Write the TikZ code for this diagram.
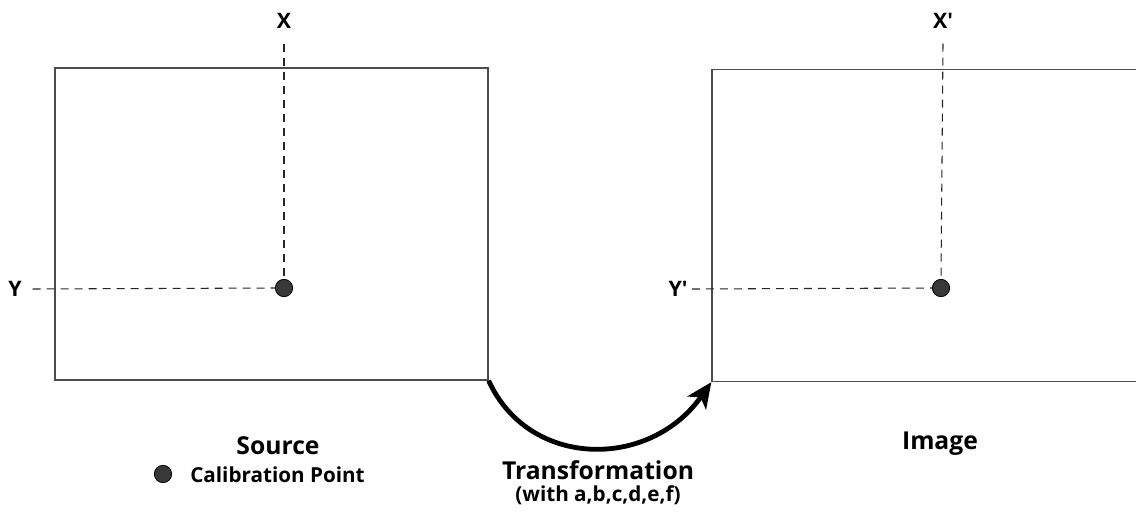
\documentclass[tikz,border=0pt]{standalone}
\usepackage{fontspec}
\setmainfont{Open Sans}
\usetikzlibrary{arrows,arrows.meta,positioning}
\tikzstyle{frame}=[rectangle,draw=black!70,line width=1pt,minimum width=324.75pt,minimum height=234pt,inner sep=0pt]
\tikzstyle{calpt}=[circle,draw=black,fill=black!78,line width=0.6pt,minimum size=13pt,inner sep=0pt]
\tikzstyle{axlabel}=[font=\bfseries\fontsize{16}{18}\selectfont,inner sep=0pt]
\tikzstyle{bigtext}=[font=\bfseries\fontsize{18.5}{21}\selectfont,inner sep=0pt]
\tikzstyle{smalltext}=[font=\bfseries\fontsize{15.5}{18}\selectfont,inner sep=0pt]
\tikzstyle{guide}=[draw=black!85,line width=0.8pt,dash pattern=on 6pt off 4.5pt]

\begin{document}
\begin{tikzpicture}[x=0.75pt,y=-0.75pt,>={Stealth[length=19pt,width=17pt,inset=5pt]}]
            \useasboundingbox (0,0) rectangle (1136,528);

            % SOURCE PART

            \node[frame] (src) at (271.5,224) {};
            \node[calpt] (p1) at (284,288) {};
            \node[axlabel] (x1) at (284,21) {X};
            \node[axlabel] (y1) at (15,289) {Y};

            \draw[guide] ([yshift=-11pt]x1.south) -- (p1.north);
            \draw[guide] ([xshift=8pt]y1.east) -- (p1.west);

            \node[bigtext] (srclab) at (278,446) {Source};
            \node[calpt] (legpt) at (163,474) {};
            \node[smalltext,anchor=west] (leglab) at (190,475) {Calibration Point};

            % IMAGE PART

            \node[frame] (img) at (928.5,225.5) {};
            \node[calpt] (p2) at (941,288) {};
            \node[axlabel] (x2) at (943,21) {X\textquotesingle};
            \node[axlabel] (y2) at (678,289) {Y\textquotesingle};

            \draw[guide] ([yshift=-11pt]x2.south) -- (p2.north);
            \draw[guide] ([xshift=3pt]y2.east) -- (p2.west);

            \node[bigtext] (imglab) at (940,444) {Image};

            % Transformation

            \draw[->,line width=3.6pt] (src.south east) .. controls +(40,88) and +(-62,88) .. (img.south west);
            \node[bigtext] (trlab) at (598,470) {Transformation};
            \node[smalltext] (trsub) at (598,495) {(with a,b,c,d,e,f)};

\end{tikzpicture}
\end{document}
